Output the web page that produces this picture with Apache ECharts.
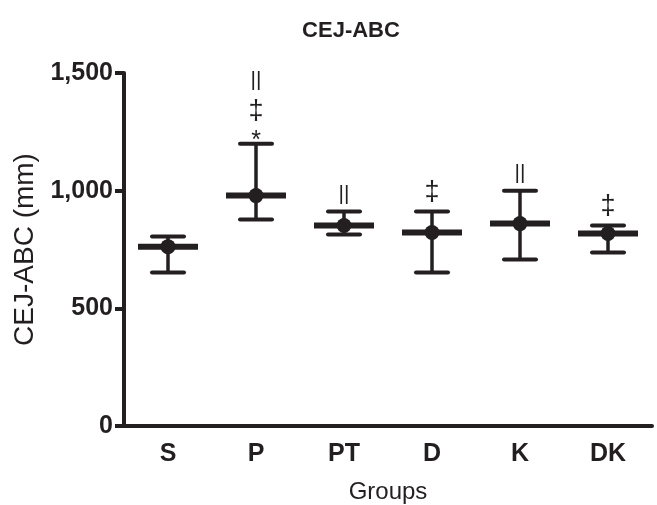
<!DOCTYPE html>
<html>
<head>
<meta charset="utf-8">
<script src="https://cdn.jsdelivr.net/npm/echarts@6/dist/echarts.min.js"></script>
<style>
  html, body { margin: 0; padding: 0; background: #fff; }
  #chart { width: 657px; height: 505px; }
</style>
</head>
<body>
<div id="chart"></div>
<script>
const groups = ['S', 'P', 'PT', 'D', 'K', 'DK']
const means = [762, 979, 852, 822, 860, 818]
const upper = [805, 1199, 911, 911, 1000, 852]
const lower = [652, 877, 814, 652, 708, 737]
// significance marks, listed from the cap upwards
const marks = [[], ['*', '‡', '||'], ['||'], ['‡'], ['||'], ['‡']]
const yTicks = [0, 500, 1000, 1500]

const ink = '#231f20'
const font = 'Liberation Sans, Arial, sans-serif'

// glyph heights used to stack the marks
const markH = { '*': 9, '‡': 24, '||': 19 }
const markSize = { '*': 25, '‡': 27, '||': 21 }
const markShift = { '*': 5, '‡': 1, '||': 0 }

const chart = echarts.init(document.getElementById('chart'))

function renderBar (params, api) {
  const i = api.value(0)
  const x = api.coord([i, 0])[0]
  const yM = api.coord([i, api.value(1)])[1]
  const yH = api.coord([i, api.value(2)])[1]
  const yL = api.coord([i, api.value(3)])[1]
  const st = { stroke: ink, lineCap: 'butt' }
  const children = [
    { type: 'line', shape: { x1: x, y1: yH, x2: x, y2: yL }, style: { ...st, lineWidth: 3.5 } },
    { type: 'line', shape: { x1: x - 16, y1: yH, x2: x + 16, y2: yH }, style: { ...st, lineWidth: 4, lineCap: 'round' } },
    { type: 'line', shape: { x1: x - 16, y1: yL, x2: x + 16, y2: yL }, style: { ...st, lineWidth: 4, lineCap: 'round' } },
    { type: 'line', shape: { x1: x - 30, y1: yM, x2: x + 30, y2: yM }, style: { ...st, lineWidth: 6 } }
  ]
  let bottom = yH
  marks[i].forEach((m, k) => {
    const gap = k === 0 ? (m === '*' ? 3 : 8) : 9
    bottom -= gap
    const cy = bottom - markH[m] / 2
    bottom -= markH[m]
    children.push({
      type: 'text',
      style: {
        text: m,
        x: x,
        y: cy + markShift[m],
        align: 'center',
        verticalAlign: 'middle',
        fill: ink,
        font: 'normal ' + markSize[m] + 'px ' + font
      }
    })
  })
  return { type: 'group', children }
}

const option = {
  animation: false,
  backgroundColor: '#fff',
  title: {
    text: 'CEJ-ABC',
    left: 346,
    top: 15,
    textAlign: 'center',
    textStyle: { fontFamily: font, fontWeight: 'bold', fontSize: 22, color: ink }
  },
  grid: { left: 124, right: 5, top: 73, bottom: 79, containLabel: false, outerBoundsMode: 'none' },
  xAxis: {
    type: 'category',
    data: groups,
    name: 'Groups',
    nameLocation: 'middle',
    nameGap: 54,
    nameTextStyle: { fontFamily: font, fontSize: 24, color: ink },
    axisLine: { lineStyle: { color: ink, width: 4 } },
    axisTick: { alignWithLabel: true, length: 10, lineStyle: { color: ink, width: 4 } },
    axisLabel: { margin: 16, fontFamily: font, fontWeight: 'bold', fontSize: 25, color: ink }
  },
  yAxis: {
    type: 'value',
    min: yTicks[0],
    max: yTicks[yTicks.length - 1],
    interval: 500,
    name: 'CEJ-ABC (mm)',
    nameLocation: 'middle',
    nameGap: 83,
    nameTextStyle: { fontFamily: font, fontSize: 28, color: ink },
    splitLine: { show: false },
    axisLine: { show: true, lineStyle: { color: ink, width: 4 } },
    axisTick: { show: true, length: 9, lineStyle: { color: ink, width: 4 } },
    axisLabel: {
      margin: 11,
      fontFamily: font,
      fontWeight: 'bold',
      fontSize: 25,
      color: ink,
      formatter: v => v.toLocaleString('en-US')
    }
  },
  series: [
    {
      type: 'custom',
      renderItem: renderBar,
      data: groups.map((g, i) => [i, means[i], upper[i], lower[i]]),
      z: 2
    },
    {
      type: 'scatter',
      data: groups.map((g, i) => [i, means[i]]),
      symbol: 'circle',
      symbolSize: 15,
      itemStyle: { color: ink, opacity: 1 },
      z: 3
    }
  ]
}

chart.setOption(option)
</script>
</body>
</html>
